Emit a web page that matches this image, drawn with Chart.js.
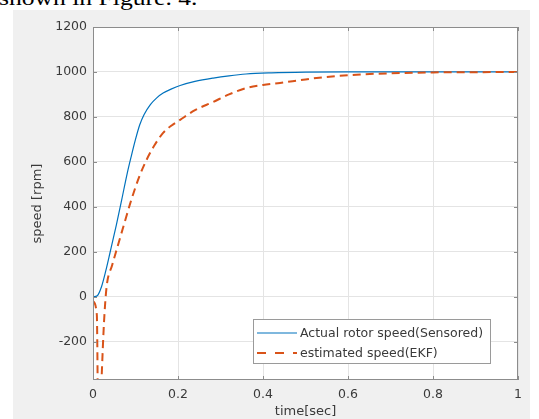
<!DOCTYPE html>
<html>
<head>
<meta charset="utf-8">
<script src="https://cdn.jsdelivr.net/npm/chart.js@4"></script>
<style>
html,body{margin:0;padding:0;background:#fff;overflow:hidden;}
body{width:539px;height:419px;position:relative;}
#fig{position:absolute;left:13px;top:10px;width:517px;height:409px;background:#f0f0f0;}
#cap{position:absolute;left:-1px;top:-12px;font:20px "Liberation Serif","Times New Roman",serif;line-height:20px;color:#000;transform:scaleX(1.28);transform-origin:0 0;white-space:nowrap;z-index:2;}
canvas{display:block;}
</style>
</head>
<body>
<div id="cap">shown in Figure. 4.</div>
<div id="fig"><canvas id="c" width="517" height="409" style="width:517px;height:409px"></canvas></div>
<script>
// values
const timeActual=[0,0.01,0.02,0.03,0.04,0.055,0.0675,0.08,0.09,0.1,0.11,0.12,0.135,0.15,0.165,0.185,0.205,0.24,0.283,0.32,0.36,0.42,0.5,0.6,0.8,1];
const speedActual=[0,5,45,115,196,320,431,545,625,700,765,810,855,885,906,925,940,958,973,983,991,996,999,1000,1000,1000];
const timeEkf=[0,0.009,0.013,0.02,0.026,0.032,0.045,0.058,0.075,0.09,0.108,0.126,0.145,0.165,0.185,0.205,0.24,0.283,0.32,0.362,0.4,0.44,0.5,0.55,0.62,0.7,0.8,0.9,1];
const speedEkf=[-20,-80,-700,-370,-110,44,140,225,335,430,530,609,675,729,762,787,830,867,900,929,942,951,967,978,988,994,998,999,1000];
const seriesNames=['Actual rotor speed(Sensored)','estimated speed(EKF)'];
const xTicks=[0,0.2,0.4,0.6,0.8,1];
const yTicks=[-200,0,200,400,600,800,1000,1200];
const xRange=[0,1];
const yRange=[-370,1200];

const BLUE='#0072BD', ORANGE='#D95319', AXIS='#8c8c8c', TXT='#3a3a3a';
const FONT='"DejaVu Sans", sans-serif';

function pts(xs,ys){ return xs.map((x,i)=>({x,y:ys[i]})); }

function seg(ctx,x1,y1,x2,y2){ ctx.beginPath(); ctx.moveTo(x1,y1); ctx.lineTo(x2,y2); ctx.stroke(); }

const boxPlugin={
  id:'boxLegend',
  beforeDraw(chart){
    const {ctx,chartArea:a}=chart;
    ctx.save(); ctx.fillStyle='#fff';
    ctx.fillRect(a.left,a.top,a.right-a.left,a.bottom-a.top);
    ctx.restore();
  },
  afterDraw(chart){
    const {ctx,chartArea:a,scales}=chart;
    ctx.save();
    ctx.strokeStyle=AXIS; ctx.lineWidth=1;
    xTicks.forEach(v=>{
      const x=Math.round(scales.x.getPixelForValue(v))+0.5;
      seg(ctx,x,a.bottom,x,a.bottom-4); seg(ctx,x,a.top,x,a.top+4);
    });
    yTicks.forEach(v=>{
      const y=Math.round(scales.y.getPixelForValue(v))+0.5;
      seg(ctx,a.left,y,a.left+4,y); seg(ctx,a.right,y,a.right-4,y);
    });
    ctx.strokeRect(Math.round(a.left)+0.5,Math.round(a.top)+0.5,Math.round(a.right-a.left)-1,Math.round(a.bottom-a.top)-1);

    // legend box
    const lx=Math.round(a.right)-265, ly=Math.round(a.bottom)-61, lw=237, lh=44;
    ctx.fillStyle='#fff'; ctx.fillRect(lx,ly,lw,lh);
    ctx.strokeStyle='#9a9a9a'; ctx.strokeRect(lx+0.5,ly+0.5,lw,lh);
    const ds=chart.data.datasets;
    ctx.font='12.5px '+FONT; ctx.textBaseline='middle'; ctx.fillStyle=TXT;
    ds.forEach((d,i)=>{
      const y=ly+14+i*20;
      ctx.strokeStyle=d.borderColor; ctx.lineWidth=d.borderWidth;
      ctx.setLineDash(i===1?[9,9]:[]);
      seg(ctx,lx+4,y,lx+44,y);
      ctx.setLineDash([]);
      ctx.fillText(d.label,lx+47,y+1);
    });
    ctx.restore();
  }
};

new Chart(document.getElementById('c'),{
  type:'line',
  data:{datasets:[
    {label:seriesNames[0],data:pts(timeActual,speedActual),borderColor:BLUE,borderWidth:1.2,pointRadius:0,fill:false,cubicInterpolationMode:'monotone',order:1},
    {label:seriesNames[1],data:pts(timeEkf,speedEkf),borderColor:ORANGE,borderWidth:2,borderDash:[8,5],pointRadius:0,fill:false,cubicInterpolationMode:'monotone',order:0}
  ]},
  options:{
    responsive:false,animation:false,
    layout:{padding:{left:0,right:12,top:17,bottom:0}},
    plugins:{legend:{display:false},tooltip:{enabled:false}},
    scales:{
      x:{type:'linear',min:xRange[0],max:xRange[1],
        afterBuildTicks:s=>{s.ticks=xTicks.map(v=>({value:v}));},
        afterFit:s=>{s.height=39;},
        grid:{color:'#e4e4e4',drawTicks:false},
        border:{display:false},
        ticks:{padding:7,maxRotation:0,autoSkip:false,color:TXT,font:{family:FONT,size:12.5},callback:v=>String(v)},
        title:{display:true,text:'time[sec]',color:TXT,font:{family:FONT,size:13},padding:{top:0,bottom:0}}
      },
      y:{type:'linear',min:yRange[0],max:yRange[1],
        afterBuildTicks:s=>{s.ticks=yTicks.map(v=>({value:v}));},
        afterFit:s=>{s.width=80;},
        grid:{color:'#e4e4e4',drawTicks:false},
        border:{display:false},
        ticks:{padding:6,color:TXT,font:{family:FONT,size:12.5},callback:v=>String(v)},
        title:{display:true,text:'speed [rpm]',color:TXT,font:{family:FONT,size:13},padding:{top:17,bottom:0}}
      }
    }
  },
  plugins:[boxPlugin]
});
</script>
</body>
</html>
